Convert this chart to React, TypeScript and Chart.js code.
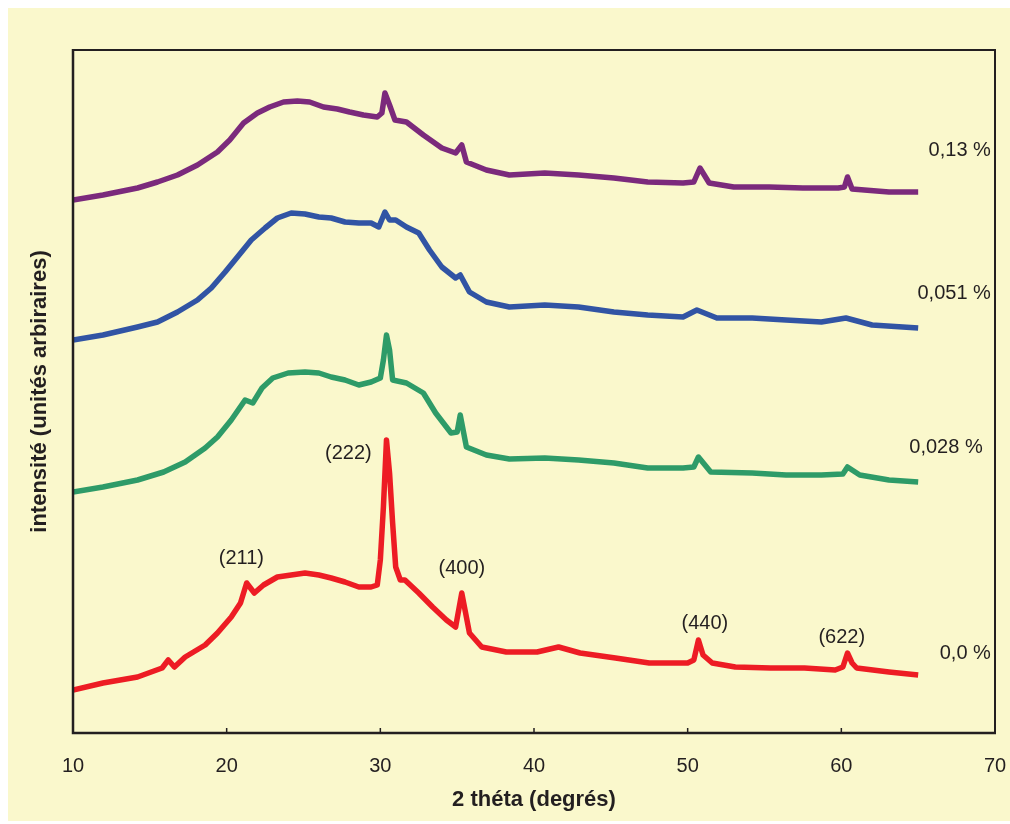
import { useEffect, useRef } from 'react';
import { Chart, registerables } from 'chart.js';

Chart.register(...registerables);

// 2θ tick values
const xTicks = [10, 20, 30, 40, 50, 60, 70];

// 0,13 % (purple)
const theta013 = [10, 11.95, 14.2, 15.5, 16.8, 18.1, 19.4, 20.2, 21.1, 22, 22.8, 23.7, 24.6, 25.4, 26.3, 27.2, 28, 28.9, 29.8, 30.1, 30.3, 30.6, 30.95, 31.7, 32.8, 34, 34.9, 35.3, 35.6, 36.9, 38.4, 40.7, 42.9, 45.2, 47.4, 49.7, 50.4, 50.8, 51.4, 53, 55.3, 57.5, 59.8, 60.2, 60.4, 60.7, 63.1, 65];
const int013 = [533, 538, 545, 551, 558, 568, 581, 593, 610, 620, 626, 631, 632, 631, 626, 624, 621, 618, 616, 620, 640, 628, 613, 611, 598, 585, 580, 588, 571, 563, 558, 560, 558, 555, 551, 550, 551, 565, 550, 546, 546, 545, 545, 546, 556, 544, 541, 541];

// 0,051 % (blue)
const theta051 = [10, 11.95, 14.2, 15.5, 16.8, 18.1, 19, 19.9, 20.7, 21.6, 22.5, 23.3, 24.2, 25.1, 26, 26.8, 27.7, 28.6, 29.4, 29.9, 30.3, 30.6, 31, 31.7, 32.5, 33.2, 34, 34.9, 35.2, 35.8, 36.9, 38.4, 40.7, 42.9, 45.2, 47.4, 49.7, 50.6, 51.9, 54.2, 56.4, 58.7, 60.3, 62, 65];
const int051 = [393, 398, 406, 411, 421, 433, 445, 461, 476, 493, 505, 515, 520, 519, 516, 515, 511, 510, 510, 506, 521, 513, 513, 506, 500, 483, 466, 455, 458, 441, 431, 426, 428, 426, 421, 418, 416, 423, 415, 415, 413, 411, 415, 408, 405];

// 0,028 % (green)
const theta028 = [10, 11.95, 14.2, 15.9, 17.3, 18.6, 19.4, 20.3, 21.2, 21.7, 22.3, 23, 24, 25.1, 26, 26.8, 27.7, 28.6, 29.4, 30, 30.2, 30.4, 30.6, 30.8, 31.7, 32.8, 33.6, 34.6, 35, 35.2, 35.6, 36.9, 38.4, 40.7, 42.9, 45.2, 47.4, 49.7, 50.4, 50.7, 51.5, 54.2, 56.4, 58.7, 60.1, 60.4, 61.2, 63.1, 65];
const int028 = [241, 246, 253, 261, 271, 285, 296, 313, 333, 330, 345, 355, 360, 361, 360, 356, 353, 348, 351, 355, 373, 398, 383, 353, 350, 340, 320, 300, 301, 318, 286, 278, 274, 275, 273, 270, 265, 265, 266, 276, 261, 260, 258, 258, 259, 266, 258, 253, 251];

// 0,0 % (red)
const theta000 = [10, 11.95, 14.2, 15.8, 16.2, 16.6, 17.3, 18.6, 19.4, 20.3, 20.9, 21.3, 21.8, 22.4, 23.3, 24.2, 25.1, 26, 26.8, 27.7, 28.6, 29.4, 29.8, 30, 30.2, 30.4, 30.6, 30.8, 31, 31.3, 31.6, 32.5, 33.4, 34.3, 34.9, 35.3, 35.8, 36.6, 38.2, 40.2, 41.6, 43, 45.3, 47.5, 50, 50.4, 50.7, 51, 51.6, 53.1, 55.4, 57.6, 59.6, 60.1, 60.4, 60.7, 61, 63.1, 65];
const int000 = [43, 50, 56, 65, 73, 66, 76, 88, 100, 116, 130, 150, 140, 148, 156, 158, 160, 158, 155, 151, 146, 146, 148, 173, 226, 293, 260, 210, 166, 153, 153, 140, 126, 113, 106, 140, 100, 86, 81, 81, 86, 80, 75, 70, 70, 73, 93, 78, 70, 66, 65, 65, 63, 66, 80, 70, 65, 61, 58];

// curve labels (right side)
const curveLabels = ['0,13 %', '0,051 %', '0,028 %', '0,0 %'];
const curveLabelX = [69.73, 69.73, 69.2, 69.73];
const curveLabelY = [583, 440, 286, 80];

// peak (hkl) labels
const peakLabels = ['(211)', '(222)', '(400)', '(440)', '(622)'];
const peakLabelX = [20.96, 27.92, 35.31, 51.12, 60.03];
const peakLabelY = [175, 280, 165, 110, 96];

const FONT = 'Arial, "Liberation Sans", Helvetica, sans-serif';
const INK = '#231f20';

const framePlugin = {
  id: 'frame',
  afterDatasetsDraw(chart: any) {
    const { ctx, chartArea: a, scales } = chart;
    ctx.save();
    ctx.strokeStyle = INK;
    ctx.lineWidth = 2;
    ctx.beginPath();
    ctx.moveTo(a.left, a.top);
    ctx.lineTo(a.right, a.top);
    ctx.lineTo(a.right, a.bottom);
    ctx.stroke();
    ctx.lineWidth = 2.5;
    ctx.beginPath();
    ctx.moveTo(a.left, a.top - 1);
    ctx.lineTo(a.left, a.bottom);
    ctx.lineTo(a.right + 1, a.bottom);
    ctx.stroke();
    ctx.lineWidth = 1.5;
    xTicks.slice(1, -1).forEach((v) => {
      const px = scales.x.getPixelForValue(v);
      ctx.beginPath();
      ctx.moveTo(px, a.bottom);
      ctx.lineTo(px, a.bottom - 5);
      ctx.stroke();
    });
    ctx.restore();
  },
};

const labelPlugin = {
  id: 'labels',
  afterDraw(chart: any) {
    const { ctx, scales } = chart;
    ctx.save();
    ctx.fillStyle = INK;
    ctx.font = `20px ${FONT}`;
    ctx.textBaseline = 'middle';
    ctx.textAlign = 'right';
    curveLabels.forEach((t, i) => {
      ctx.fillText(t, scales.x.getPixelForValue(curveLabelX[i]), scales.y.getPixelForValue(curveLabelY[i]));
    });
    ctx.textAlign = 'center';
    peakLabels.forEach((t, i) => {
      ctx.fillText(t, scales.x.getPixelForValue(peakLabelX[i]), scales.y.getPixelForValue(peakLabelY[i]));
    });
    ctx.restore();
  },
};

const toPoints = (xs: number[], ys: number[]) => xs.map((x, i) => ({ x, y: ys[i] }));

export default function App() {
  const ref = useRef<HTMLCanvasElement>(null);
  useEffect(() => {
    const line = (label: string, xs: number[], ys: number[], color: string) => ({
      label,
      data: toPoints(xs, ys),
      borderColor: color,
      backgroundColor: color,
      borderWidth: 5.5,
      borderJoinStyle: 'round' as const,
      pointRadius: 0,
      tension: 0,
    });
    const chart = new Chart(ref.current!, {
      type: 'line',
      data: {
        datasets: [
          line('0,13 %', theta013, int013, '#7b2a7c'),
          line('0,051 %', theta051, int051, '#3154a4'),
          line('0,028 %', theta028, int028, '#2e9b68'),
          line('0,0 %', theta000, int000, '#ed1c24'),
        ],
      },
      options: {
        animation: false,
        responsive: true,
        maintainAspectRatio: false,
        layout: { padding: { top: 42, right: 15, bottom: 0, left: 0 } },
        plugins: { legend: { display: false }, tooltip: { enabled: false } },
        scales: {
          x: {
            type: 'linear',
            min: 10,
            max: 70,
            afterBuildTicks: (s: any) => {
              s.ticks = xTicks.map((v) => ({ value: v }));
            },
            afterFit: (s: any) => {
              s.height = 88;
              s.paddingLeft = 0;
              s.paddingRight = 0;
            },
            grid: { display: false, drawTicks: false },
            border: { display: false },
            ticks: {
              font: { family: FONT, size: 20 },
              color: INK,
              padding: 21,
              maxRotation: 0,
              autoSkip: false,
            },
            title: {
              display: true,
              text: '2 théta (degrés)',
              font: { family: FONT, size: 22, weight: 'bold' },
              color: INK,
              padding: { top: 0, bottom: 8 },
            },
          },
          y: {
            min: 0,
            max: 683,
            afterFit: (s: any) => {
              s.width = 65;
            },
            ticks: { display: false },
            grid: { display: false, drawTicks: false },
            border: { display: false },
            title: {
              display: true,
              text: 'intensité (unités arbiraires)',
              font: { family: FONT, size: 22, weight: 'bold' },
              color: INK,
              padding: { top: 19, bottom: 0 },
            },
          },
        },
      },
      plugins: [framePlugin, labelPlugin],
    });
    return () => chart.destroy();
  }, []);
  return (
    <div style={{ position: 'absolute', left: 8, top: 8, width: 1002, height: 813, background: '#faf8cc' }}>
      <canvas ref={ref} />
    </div>
  );
}
